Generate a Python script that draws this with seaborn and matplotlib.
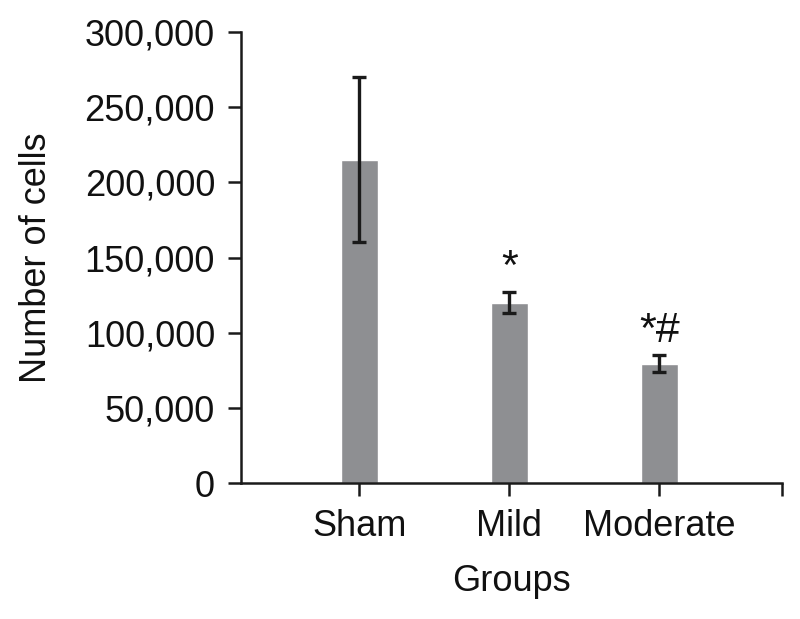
import pandas as pd
import matplotlib
matplotlib.use("Agg")
import matplotlib.pyplot as plt
import seaborn as sns
from matplotlib.ticker import FuncFormatter

# データ
groups = ["Sham", "Mild", "Moderate"]
cells_mean = [215000, 120000, 79500]
cells_err = [55000, 7000, 5500]
marks = ["", "*", "*#"]

df = pd.DataFrame({"group": groups, "cells": cells_mean})

sns.set_style("ticks")
plt.rcParams["font.family"] = ["Liberation Sans", "DejaVu Sans"]
plt.rcParams["text.color"] = "#111111"
plt.rcParams["axes.labelcolor"] = "#111111"
plt.rcParams["xtick.color"] = "#111111"
plt.rcParams["ytick.color"] = "#111111"

fig = plt.figure(figsize=(8, 6.19), dpi=100)
ax = fig.add_axes([0.301, 0.219, 0.677, 0.730])

sns.barplot(data=df, x="group", y="cells", color="#8e8f92", saturation=1,
            width=0.25, errorbar=None, ax=ax)
ax.errorbar(range(len(groups)), cells_mean, yerr=cells_err, fmt="none",
            ecolor="#1a1a1a", elinewidth=2.4, capsize=5, capthick=2.4)

# 有意差マーク
for i, (m, e, s) in enumerate(zip(cells_mean, cells_err, marks)):
    if s:
        ax.text(i, m + e + 3000, s, ha="center", va="bottom", fontsize=31)

ax.set_xlim(-0.79, 2.82)
ax.set_ylim(0, 300000)
ax.set_yticks(range(0, 300001, 50000))
ax.yaxis.set_major_formatter(FuncFormatter(lambda v, p: f"{int(v):,}"))
ax.set_xticks([2.82], minor=True)

ax.set_xlabel("Groups", fontsize=26, labelpad=14)
ax.set_ylabel("Number of cells", fontsize=26, labelpad=22)
ax.tick_params(axis="both", which="both", labelsize=26, width=1.8, length=9.5,
               color="#1a1a1a", pad=9)
for side in ["left", "bottom"]:
    ax.spines[side].set_linewidth(1.8)
    ax.spines[side].set_color("#1a1a1a")
sns.despine(ax=ax)

plt.savefig("out.png", dpi=100)
plt.close()
